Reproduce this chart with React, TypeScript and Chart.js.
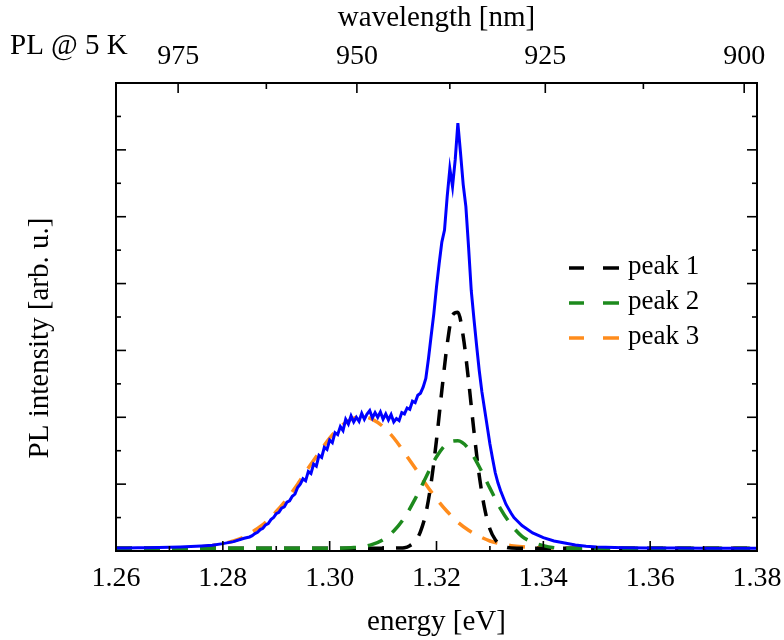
import React, { useEffect, useRef } from "react";
import { Chart, registerables } from "chart.js";

Chart.register(...registerables);

const FONT = "'Liberation Serif', 'Times New Roman', Times, serif";
const HC = 1239.84; // eV * nm

// ---- axis ticks ----
const energyMajorTicks = [1.26, 1.28, 1.3, 1.32, 1.34, 1.36, 1.38];
const energyMinorTicks = [1.27, 1.29, 1.31, 1.33, 1.35, 1.37];
const wavelengthMajorTicks = [975, 950, 925, 900];
const wavelengthMinorTicks = [962.5, 937.5, 912.5];
const intensityMajorTicks = [1, 2, 3, 4, 5, 6];
const intensityMinorTicks = [0.5, 1.5, 2.5, 3.5, 4.5, 5.5, 6.5];

// ---- measured PL spectrum (blue) ----
const spectrumEnergy = [
  1.26, 1.262, 1.264, 1.266, 1.268, 1.27, 1.272, 1.274, 1.276, 1.278, 1.28, 1.282, 1.284,
  1.285, 1.2855, 1.286, 1.2865, 1.287, 1.2875, 1.288, 1.2885, 1.289, 1.2895,
  1.29, 1.2905, 1.291, 1.2915, 1.292, 1.2925, 1.293, 1.2935, 1.294, 1.2945,
  1.295, 1.2955, 1.296, 1.2965, 1.297, 1.2975, 1.298, 1.2985, 1.299, 1.2995,
  1.3, 1.3005, 1.301, 1.3015, 1.302, 1.3025, 1.303, 1.3035, 1.304, 1.3045,
  1.305, 1.3055, 1.306, 1.3065, 1.307, 1.3075, 1.308, 1.3085, 1.309, 1.3095,
  1.31, 1.3105, 1.311, 1.3115, 1.312, 1.3125, 1.313, 1.3135, 1.314, 1.3145,
  1.315, 1.3155, 1.316, 1.3165, 1.317, 1.3175, 1.318, 1.3185, 1.319, 1.3195,
  1.32, 1.3205, 1.321, 1.3215, 1.322, 1.3225, 1.323, 1.3235, 1.324, 1.3245,
  1.325, 1.3255, 1.326, 1.3265, 1.327, 1.3275, 1.328, 1.3285, 1.329, 1.3295,
  1.33, 1.3305, 1.331, 1.3315, 1.332, 1.3325, 1.333, 1.3335, 1.334, 1.3345, 1.335,
  1.336, 1.338, 1.34, 1.342, 1.344, 1.346, 1.348, 1.35, 1.355, 1.36, 1.365, 1.37, 1.375, 1.38,
];
const spectrumIntensity = [
  0.045, 0.046, 0.047, 0.05, 0.052, 0.056, 0.06, 0.066, 0.074, 0.085, 0.11, 0.14, 0.19,
  0.21, 0.23, 0.26, 0.28, 0.32, 0.34, 0.39, 0.41, 0.47, 0.5,
  0.56, 0.58, 0.64, 0.66, 0.73, 0.75, 0.82, 0.85, 0.95, 1.0,
  1.08, 1.05, 1.19, 1.16, 1.3, 1.27, 1.43, 1.4, 1.55, 1.52,
  1.66, 1.62, 1.77, 1.74, 1.86, 1.8, 1.97, 1.9, 2.02, 1.93,
  2.0, 1.94, 2.06, 1.97, 2.05, 2.1, 1.99, 2.07, 2.0, 2.08,
  1.97, 2.05, 1.96, 2.04, 1.93, 1.98, 1.95, 2.07, 2.05, 2.14,
  2.12, 2.24, 2.22, 2.33, 2.36, 2.45, 2.58, 2.88, 3.22, 3.55,
  3.95, 4.3, 4.62, 4.8, 5.3, 5.72, 5.45, 5.85, 6.4, 5.95,
  5.48, 5.15, 4.55, 3.9, 3.48, 3.08, 2.7, 2.38, 2.12, 1.86,
  1.6, 1.38, 1.17, 1.02, 0.9, 0.8, 0.7, 0.63, 0.56, 0.5, 0.46,
  0.38, 0.27, 0.2, 0.15, 0.12, 0.09, 0.07, 0.06, 0.05, 0.045, 0.045, 0.04, 0.04, 0.04,
];

// ---- fitted peaks (dashed) ----
const peak1Energy = [
  1.26, 1.3, 1.31, 1.313, 1.314, 1.315, 1.316, 1.317, 1.318, 1.319, 1.32, 1.321, 1.322, 1.323,
  1.324, 1.325, 1.326, 1.327, 1.328, 1.329, 1.33, 1.331, 1.332, 1.333, 1.334, 1.34, 1.38,
];
const peak1Intensity = [
  0.04, 0.04, 0.04, 0.045, 0.05, 0.08, 0.14, 0.29, 0.56, 1.02, 1.66, 2.4, 3.09, 3.53,
  3.57, 3.21, 2.55, 1.8, 1.13, 0.64, 0.33, 0.17, 0.09, 0.056, 0.045, 0.04, 0.04,
];

const peak2Energy = [
  1.26, 1.29, 1.3, 1.304, 1.306, 1.308, 1.31, 1.312, 1.314, 1.316, 1.318, 1.32, 1.322, 1.324,
  1.326, 1.328, 1.33, 1.332, 1.334, 1.336, 1.338, 1.34, 1.342, 1.344, 1.36, 1.38,
];
const peak2Intensity = [
  0.04, 0.04, 0.04, 0.05, 0.06, 0.1, 0.17, 0.3, 0.5, 0.78, 1.1, 1.41, 1.61, 1.65,
  1.53, 1.26, 0.94, 0.63, 0.39, 0.22, 0.13, 0.08, 0.05, 0.04, 0.04, 0.04,
];

const peak3Energy = [
  1.26, 1.266, 1.27, 1.272, 1.274, 1.276, 1.278, 1.28, 1.282, 1.284, 1.286, 1.288, 1.29, 1.292,
  1.294, 1.296, 1.298, 1.3, 1.302, 1.304, 1.306, 1.308, 1.31, 1.312, 1.314, 1.316, 1.318, 1.32,
  1.322, 1.324, 1.326, 1.328, 1.33, 1.332, 1.334, 1.336, 1.338, 1.34, 1.342, 1.346, 1.38,
];
const peak3Intensity = [
  0.04, 0.04, 0.043, 0.046, 0.052, 0.062, 0.08, 0.11, 0.15, 0.21, 0.31, 0.43, 0.59, 0.78,
  1.0, 1.24, 1.47, 1.69, 1.86, 1.97, 2.01, 1.97, 1.86, 1.69, 1.47, 1.24, 1.0, 0.78,
  0.59, 0.43, 0.31, 0.22, 0.15, 0.11, 0.08, 0.062, 0.052, 0.046, 0.043, 0.04, 0.04,
];

const legendLabels = ["peak 1", "peak 2", "peak 3"];
const peakColors = ["#000000", "#1d8a1d", "#ff8c1c"];
const spectrumColor = "#0000ff";

const toPoints = (xs: number[], ys: number[]) => xs.map((x, i) => ({ x, y: ys[i] }));

const decorPlugin = {
  id: "decor",
  afterDatasetsDraw(chart: any) {
    const ctx = chart.ctx as CanvasRenderingContext2D;
    const { left, right, top, bottom } = chart.chartArea;
    const xs = chart.scales.x;
    const ys = chart.scales.y;
    ctx.save();
    ctx.strokeStyle = "#000";
    ctx.lineWidth = 2;
    ctx.strokeRect(left, top, right - left, bottom - top);
    ctx.lineWidth = 1.6;
    const line = (x1: number, y1: number, x2: number, y2: number) => {
      ctx.beginPath();
      ctx.moveTo(x1, y1);
      ctx.lineTo(x2, y2);
      ctx.stroke();
    };
    energyMajorTicks.forEach((v) => {
      const p = xs.getPixelForValue(v);
      line(p, bottom, p, bottom - 10);
    });
    energyMinorTicks.forEach((v) => {
      const p = xs.getPixelForValue(v);
      line(p, bottom, p, bottom - 5);
    });
    wavelengthMajorTicks.forEach((w) => {
      const p = xs.getPixelForValue(HC / w);
      line(p, top, p, top + 10);
    });
    wavelengthMinorTicks.forEach((w) => {
      const p = xs.getPixelForValue(HC / w);
      line(p, top, p, top + 6);
    });
    intensityMajorTicks.forEach((v) => {
      const p = ys.getPixelForValue(v);
      line(left, p, left + 10, p);
      line(right, p, right - 10, p);
    });
    intensityMinorTicks.forEach((v) => {
      const p = ys.getPixelForValue(v);
      line(left, p, left + 5, p);
      line(right, p, right - 5, p);
    });
    ctx.restore();
  },
  afterDraw(chart: any) {
    const ctx = chart.ctx as CanvasRenderingContext2D;
    const { left, top, bottom } = chart.chartArea;
    ctx.save();
    ctx.fillStyle = "#000";
    // y-axis title
    ctx.font = `29px ${FONT}`;
    ctx.textAlign = "center";
    ctx.textBaseline = "middle";
    ctx.save();
    ctx.translate(left - 76, (top + bottom) / 2 + 21);
    ctx.rotate(-Math.PI / 2);
    ctx.fillText("PL intensity [arb. u.]", 0, 0);
    ctx.restore();
    // corner label
    ctx.textAlign = "left";
    ctx.fillText("PL @ 5 K", 10, 46);
    // legend
    ctx.font = `27px ${FONT}`;
    legendLabels.forEach((label, i) => {
      const y = top + 185 + i * 35;
      ctx.strokeStyle = peakColors[i];
      ctx.lineWidth = 3.5;
      ctx.beginPath();
      ctx.moveTo(left + 453, y);
      ctx.lineTo(left + 468, y);
      ctx.moveTo(left + 487, y);
      ctx.lineTo(left + 503, y);
      ctx.stroke();
      ctx.fillText(label, left + 512, y - 1);
    });
    ctx.restore();
  },
};

export default function App() {
  const ref = useRef<HTMLCanvasElement | null>(null);
  useEffect(() => {
    if (!ref.current) return;
    Chart.defaults.color = "#000";
    const dashed = (i: number, xs: number[], ysArr: number[], order: number) => ({
      label: legendLabels[i],
      data: toPoints(xs, ysArr),
      borderColor: peakColors[i],
      backgroundColor: peakColors[i],
      borderWidth: 3.5,
      borderDash: [16, 12],
      pointRadius: 0,
      cubicInterpolationMode: "monotone" as const,
      fill: false,
      order,
    });
    const chart = new Chart(ref.current, {
      type: "line",
      data: {
        datasets: [
          {
            label: "PL",
            data: toPoints(spectrumEnergy, spectrumIntensity),
            borderColor: spectrumColor,
            backgroundColor: spectrumColor,
            borderWidth: 3,
            pointRadius: 0,
            tension: 0,
            fill: false,
            order: 0,
          },
          dashed(0, peak1Energy, peak1Intensity, 2),
          dashed(1, peak2Energy, peak2Intensity, 1),
          dashed(2, peak3Energy, peak3Intensity, 3),
        ] as any,
      },
      options: {
        animation: false,
        responsive: false,
        maintainAspectRatio: false,
        layout: { padding: { left: 0, right: 27, top: 0, bottom: 0 } },
        plugins: { legend: { display: false }, tooltip: { enabled: false } },
        scales: {
          x: {
            type: "linear",
            position: "bottom",
            min: 1.26,
            max: 1.38,
            afterBuildTicks: (s: any) => {
              s.ticks = energyMajorTicks.map((v) => ({ value: v }));
            },
            afterFit: (s: any) => {
              s.height = 89;
              s.paddingLeft = 0;
              s.paddingRight = 0;
            },
            ticks: {
              callback: (v: any) => Number(v).toFixed(2),
              font: { family: FONT, size: 28 },
              color: "#000",
              padding: 11,
              maxRotation: 0,
              autoSkip: false,
            },
            grid: { display: false, drawTicks: false },
            border: { display: false },
            title: {
              display: true,
              text: "energy [eV]",
              font: { family: FONT, size: 29 },
              color: "#000",
              padding: { top: 0, bottom: 0 },
            },
          },
          x2: {
            type: "linear",
            position: "top",
            min: 1.26,
            max: 1.38,
            afterBuildTicks: (s: any) => {
              s.ticks = wavelengthMajorTicks.map((w) => ({ value: HC / w }));
            },
            afterFit: (s: any) => {
              s.height = 83;
              s.paddingLeft = 0;
              s.paddingRight = 0;
            },
            ticks: {
              callback: (_v: any, i: number) => String(wavelengthMajorTicks[i]),
              font: { family: FONT, size: 28 },
              color: "#000",
              padding: 10,
              maxRotation: 0,
              autoSkip: false,
            },
            grid: { display: false, drawTicks: false },
            border: { display: false },
            title: {
              display: true,
              text: "wavelength [nm]",
              font: { family: FONT, size: 29 },
              color: "#000",
              padding: { top: 1, bottom: 0 },
            },
          },
          y: {
            type: "linear",
            position: "left",
            min: 0,
            max: 7,
            afterFit: (s: any) => {
              s.width = 116;
              s.paddingTop = 0;
              s.paddingBottom = 0;
            },
            ticks: { display: false },
            grid: { display: false, drawTicks: false },
            border: { display: false },
          },
        },
      } as any,
      plugins: [decorPlugin],
    });
    return () => chart.destroy();
  }, []);

  return (
    <div style={{ position: "fixed", left: 0, top: 0, width: 784, height: 640, background: "#fff" }}>
      <canvas ref={ref} width={784} height={640} style={{ width: 784, height: 640 }} />
    </div>
  );
}
